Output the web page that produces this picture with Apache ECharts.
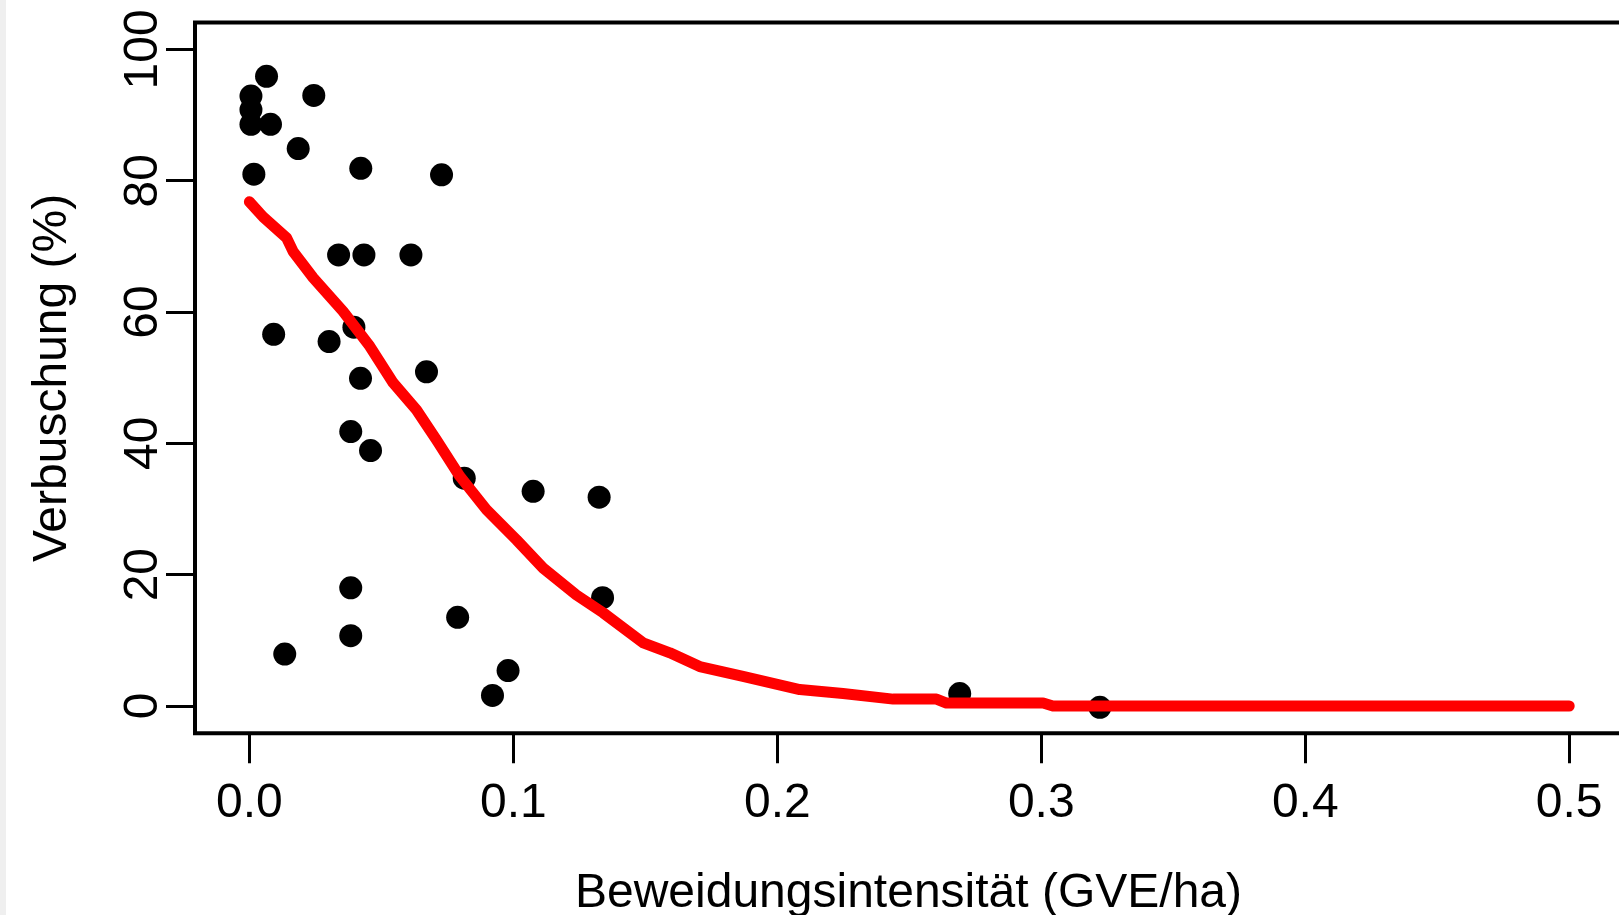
<!DOCTYPE html>
<html>
<head>
<meta charset="utf-8">
<script src="https://cdn.jsdelivr.net/npm/echarts@6/dist/echarts.min.js"></script>
<style>
  html, body { margin: 0; padding: 0; background: #ffffff; }
  #chart { width: 1619px; height: 915px; position: relative; }
  #strip { position: absolute; left: 0; top: 0; width: 6px; height: 915px; background: #efefef; z-index: 10; }
</style>
</head>
<body>
<div id="chart"></div>
<div id="strip"></div>
<script>
// Observed points: grazing intensity (GVE/ha) vs. shrub encroachment (%)
const pointX = [0.0065, 0.0006, 0.0006, 0.0006, 0.0080, 0.0244, 0.0185, 0.0017, 0.0422, 0.0728,
                0.0338, 0.0434, 0.0612, 0.0092, 0.0302, 0.0396, 0.0421, 0.0671, 0.0384, 0.0459,
                0.0814, 0.1075, 0.1325, 0.1338, 0.0384, 0.0384, 0.0134, 0.0789, 0.0980, 0.0921,
                0.2691, 0.3222];
const pointY = [95.9, 92.9, 90.8, 88.6, 88.6, 93.0, 84.9, 81.0, 81.9, 80.9,
                68.7, 68.7, 68.7, 56.6, 55.5, 57.7, 49.9, 50.9, 41.8, 38.9,
                34.7, 32.7, 31.8, 16.5, 18.0, 10.7, 7.9, 13.5, 5.4, 1.6,
                1.9, -0.2];
// Fitted curve
const curveX = [0, 0.0052, 0.0141, 0.0166, 0.0242, 0.0355, 0.0456, 0.0545, 0.0633, 0.0709, 0.0797,
                0.0898, 0.1012, 0.1113, 0.1239, 0.1340, 0.1492, 0.1593, 0.1706, 0.1870,
                0.2085, 0.2249, 0.2439, 0.2603, 0.2641, 0.3007, 0.3044, 0.5];
const curveY = [76.8, 74.5, 71.3, 69.2, 65.2, 60.1, 54.8, 49.2, 45.1, 40.5, 35.0,
                29.9, 25.3, 21.0, 16.9, 14.2, 9.6, 8.1, 6.0, 4.5,
                2.5, 1.9, 1.05, 1.05, 0.44, 0.44, 0, 0];
const xTicks = [0, 0.1, 0.2, 0.3, 0.4, 0.5];
const yTicks = [0, 20, 40, 60, 80, 100];
const xTitle = 'Beweidungsintensität (GVE/ha)';
const yTitle = 'Verbuschung (%)';

const font = "'Liberation Sans', Arial, Helvetica, sans-serif";
const chart = echarts.init(document.getElementById('chart'), null, { renderer: 'canvas' });
chart.setOption({
  animation: false,
  backgroundColor: '#ffffff',
  grid: {
    left: 195, top: 22.5, right: -3, height: 710.8,
    containLabel: false, outerBoundsMode: 'none',
    show: true, borderColor: '#000', borderWidth: 4, backgroundColor: 'transparent'
  },
  xAxis: {
    type: 'value', min: -0.0206, max: 0.52,
    axisLine: { show: false, onZero: false },
    splitLine: { show: false },
    axisTick: { show: true, customValues: xTicks, length: 30, inside: false,
                lineStyle: { color: '#000', width: 3 } },
    axisLabel: { customValues: xTicks, margin: 46, color: '#000', fontSize: 48, fontFamily: font,
                 formatter: v => v.toFixed(1) },
    name: xTitle, nameLocation: 'middle', nameGap: 136,
    nameTextStyle: { color: '#000', fontSize: 48, fontFamily: font }
  },
  yAxis: {
    type: 'value', min: -4.16, max: 104.1,
    axisLine: { show: false, onZero: false },
    splitLine: { show: false },
    axisTick: { show: true, customValues: yTicks, length: 29, inside: false,
                lineStyle: { color: '#000', width: 3 } },
    axisLabel: { customValues: yTicks, margin: 27, rotate: 90, color: '#000', fontSize: 48, fontFamily: font },
    name: yTitle, nameLocation: 'middle', nameGap: 118,
    nameTextStyle: { color: '#000', fontSize: 48, fontFamily: font }
  },
  series: [
    {
      type: 'scatter',
      data: pointX.map((x, i) => [x, pointY[i]]),
      symbol: 'circle', symbolSize: 23,
      itemStyle: { color: '#000', opacity: 1 },
      z: 2
    },
    {
      type: 'line',
      data: curveX.map((x, i) => [x, curveY[i]]),
      showSymbol: false, smooth: false,
      lineStyle: { color: '#ff0000', width: 11, cap: 'round', join: 'round', opacity: 1 },
      z: 3
    }
  ]
});
</script>
</body>
</html>
